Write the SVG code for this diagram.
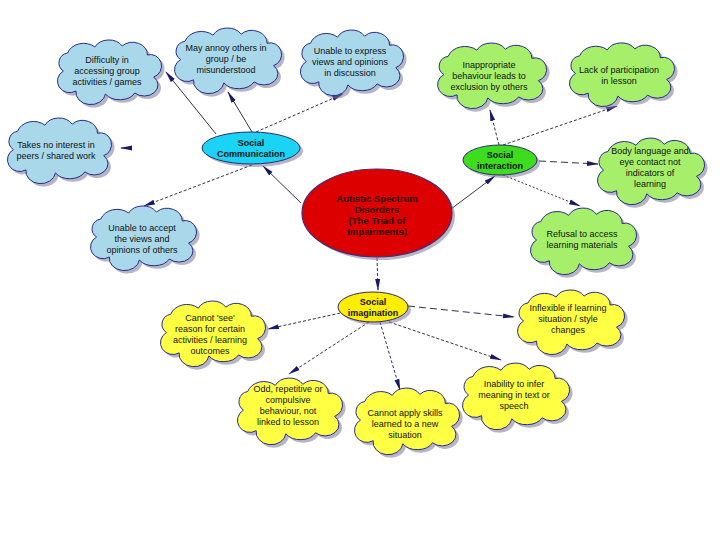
<svg xmlns="http://www.w3.org/2000/svg" xmlns:xlink="http://www.w3.org/1999/xlink" width="720" height="540" viewBox="0 0 720 540">
<style>
  .t{font-family:"Liberation Sans",Arial,sans-serif;font-size:9px;fill:#111;text-anchor:middle}
  .b{font-weight:bold}
  .shadow{fill:#7a7a9a;opacity:0.55}
  .cb{fill:#a9d8ea;stroke:#2b2b8a;stroke-width:1}
  .cg{fill:#a6ef6a;stroke:#2b2b8a;stroke-width:1}
  .cy{fill:#ffff44;stroke:#2b2b8a;stroke-width:1}
  .c{fill:none;stroke:#1a1a3a;stroke-width:0.9;marker-end:url(#ah)}
  .d1{stroke-dasharray:3 2}
  .d2{stroke-dasharray:7 4}
  .d3{stroke-dasharray:2 2}
</style>
<defs>
  <symbol id="cloud" viewBox="0 0 100 64" preserveAspectRatio="none" overflow="visible">
    <path vector-effect="non-scaling-stroke" d="M8,34 A10,10 0 0 1 12,16 A16,14 0 0 1 38,10 A15,13 0 0 1 64,9 A14,12 0 0 1 88,18 A10,11 0 0 1 94,40 A13,11 0 0 1 76,56 A16,12 0 0 1 48,57 A14,12 0 0 1 20,54 A10,10 0 0 1 8,34 Z"/>
  </symbol>
  <marker id="ah" viewBox="0 0 12 6" refX="11" refY="3" markerWidth="12" markerHeight="6" markerUnits="userSpaceOnUse" orient="auto">
    <path d="M0,0.5 L12,3 L0,5.5 Z" fill="#1a1a66"/>
  </marker>
</defs>
<rect width="720" height="540" fill="#fff"/>

<g id="connectors">
  <line class="c" x1="301" y1="203" x2="263" y2="166"/>
  <line class="c" x1="216" y1="134" x2="166" y2="72"/>
  <line class="c" x1="252" y1="132" x2="228" y2="92"/>
  <line class="c d1" x1="256" y1="132" x2="343" y2="94"/>
  <line class="c" x1="128" y1="148" x2="121" y2="148"/>
  <line class="c d1" x1="252" y1="165" x2="144" y2="206"/>
  <line class="c" x1="447" y1="212" x2="495" y2="176"/>
  <line class="c d1" x1="499" y1="145" x2="490" y2="110"/>
  <line class="c d1" x1="503" y1="145" x2="617" y2="106"/>
  <line class="c d2" x1="539" y1="161" x2="598" y2="164"/>
  <line class="c d3" x1="503" y1="175" x2="580" y2="206"/>
  <line class="c d1" x1="377" y1="258" x2="378" y2="290"/>
  <line class="c d1" x1="345" y1="312" x2="268" y2="329"/>
  <line class="c d2" x1="408" y1="306" x2="514" y2="317"/>
  <line class="c d1" x1="369" y1="322" x2="289" y2="374"/>
  <line class="c d1" x1="380" y1="322" x2="400" y2="390"/>
  <line class="c d1" x1="389" y1="322" x2="501" y2="360"/>
</g>

<g id="n-difficulty">
  <use href="#cloud" class="shadow" x="58" y="40" width="105" height="64"/>
  <use href="#cloud" class="cb" x="55" y="37" width="105" height="64"/>
  <text class="t" x="107" y="63">Difficulty in</text>
  <text class="t" x="107" y="74">accessing group</text>
  <text class="t" x="107" y="85">activities / games</text>
</g>
<g id="n-annoy">
  <use href="#cloud" class="shadow" x="175" y="28" width="108" height="65"/>
  <use href="#cloud" class="cb" x="172" y="25" width="108" height="65"/>
  <text class="t" x="226" y="51">May annoy others in</text>
  <text class="t" x="226" y="62">group / be</text>
  <text class="t" x="226" y="73">misunderstood</text>
</g>
<g id="n-express">
  <use href="#cloud" class="shadow" x="301" y="30" width="104" height="65"/>
  <use href="#cloud" class="cb" x="298" y="27" width="104" height="65"/>
  <text class="t" x="350" y="54">Unable to express</text>
  <text class="t" x="350" y="65">views and opinions</text>
  <text class="t" x="350" y="76">in discussion</text>
</g>
<g id="n-takes">
  <use href="#cloud" class="shadow" x="8" y="118" width="105" height="65"/>
  <use href="#cloud" class="cb" x="5" y="115" width="105" height="65"/>
  <text class="t" x="56" y="148">Takes no interest in</text>
  <text class="t" x="56" y="159">peers / shared work</text>
</g>
<g id="n-accept">
  <use href="#cloud" class="shadow" x="91" y="206" width="107" height="64"/>
  <use href="#cloud" class="cb" x="88" y="203" width="107" height="64"/>
  <text class="t" x="142" y="231">Unable to accept</text>
  <text class="t" x="142" y="242">the views and</text>
  <text class="t" x="142" y="253">opinions of others</text>
</g>
<g id="n-inappropriate">
  <use href="#cloud" class="shadow" x="438" y="43" width="110" height="65"/>
  <use href="#cloud" class="cg" x="435" y="40" width="110" height="65"/>
  <text class="t" x="489" y="68">Inappropriate</text>
  <text class="t" x="489" y="79">behaviour leads to</text>
  <text class="t" x="489" y="90">exclusion by others</text>
</g>
<g id="n-lack">
  <use href="#cloud" class="shadow" x="570" y="43" width="106" height="63"/>
  <use href="#cloud" class="cg" x="567" y="40" width="106" height="63"/>
  <text class="t" x="619" y="73">Lack of participation</text>
  <text class="t" x="619" y="84">in lesson</text>
</g>
<g id="n-body">
  <use href="#cloud" class="shadow" x="598" y="138" width="108" height="66"/>
  <use href="#cloud" class="cg" x="595" y="135" width="108" height="66"/>
  <text class="t" x="650" y="154">Body language and</text>
  <text class="t" x="650" y="165">eye contact not</text>
  <text class="t" x="650" y="176">indicators of</text>
  <text class="t" x="650" y="187">learning</text>
</g>
<g id="n-refusal">
  <use href="#cloud" class="shadow" x="531" y="208" width="107" height="66"/>
  <use href="#cloud" class="cg" x="528" y="205" width="107" height="66"/>
  <text class="t" x="582" y="237">Refusal to access</text>
  <text class="t" x="582" y="248">learning materials</text>
</g>
<g id="n-see">
  <use href="#cloud" class="shadow" x="161" y="301" width="106" height="65"/>
  <use href="#cloud" class="cy" x="158" y="298" width="106" height="65"/>
  <text class="t" x="210" y="321">Cannot 'see'</text>
  <text class="t" x="210" y="332">reason for certain</text>
  <text class="t" x="210" y="343">activities / learning</text>
  <text class="t" x="210" y="354">outcomes</text>
</g>
<g id="n-inflexible">
  <use href="#cloud" class="shadow" x="518" y="290" width="108" height="64"/>
  <use href="#cloud" class="cy" x="515" y="287" width="108" height="64"/>
  <text class="t" x="568" y="311">Inflexible if learning</text>
  <text class="t" x="568" y="322">situation / style</text>
  <text class="t" x="568" y="333">changes</text>
</g>
<g id="n-odd">
  <use href="#cloud" class="shadow" x="238" y="378" width="106" height="66"/>
  <use href="#cloud" class="cy" x="235" y="375" width="106" height="66"/>
  <text class="t" x="288" y="392">Odd, repetitive or</text>
  <text class="t" x="288" y="403">compulsive</text>
  <text class="t" x="288" y="414">behaviour, not</text>
  <text class="t" x="288" y="425">linked to lesson</text>
</g>
<g id="n-apply">
  <use href="#cloud" class="shadow" x="355" y="388" width="106" height="66"/>
  <use href="#cloud" class="cy" x="352" y="385" width="106" height="66"/>
  <text class="t" x="405" y="416">Cannot apply skills</text>
  <text class="t" x="405" y="427">learned to a new</text>
  <text class="t" x="405" y="438">situation</text>
</g>
<g id="n-infer">
  <use href="#cloud" class="shadow" x="463" y="363" width="108" height="66"/>
  <use href="#cloud" class="cy" x="460" y="360" width="108" height="66"/>
  <text class="t" x="514" y="387">Inability to infer</text>
  <text class="t" x="514" y="398">meaning in text or</text>
  <text class="t" x="514" y="409">speech</text>
</g>

<g id="n-social-communication">
  <ellipse cx="254" cy="151" rx="49" ry="16" fill="#7a7a9a" opacity="0.55"/>
  <ellipse cx="251" cy="148" rx="49" ry="16" fill="#1ad3f5" stroke="#2b2b6a" stroke-width="1"/>
  <text class="t b" x="251" y="146">Social</text>
  <text class="t b" x="251" y="157">Communication</text>
</g>
<g id="n-social-interaction">
  <ellipse cx="503" cy="163" rx="37" ry="15" fill="#7a7a9a" opacity="0.55"/>
  <ellipse cx="500" cy="160" rx="37" ry="15" fill="#3ddc1e" stroke="#2b2b6a" stroke-width="1"/>
  <text class="t b" x="500" y="158">Social</text>
  <text class="t b" x="500" y="169">interaction</text>
</g>
<g id="n-social-imagination">
  <ellipse cx="376" cy="310" rx="35" ry="15" fill="#7a7a9a" opacity="0.55"/>
  <ellipse cx="373" cy="307" rx="35" ry="15" fill="#ffee00" stroke="#2b2b6a" stroke-width="1"/>
  <text class="t b" x="373" y="305">Social</text>
  <text class="t b" x="373" y="316">imagination</text>
</g>
<g id="n-central">
  <ellipse cx="380" cy="216" rx="75" ry="44" fill="#7a7a9a" opacity="0.55"/>
  <ellipse cx="377" cy="213" rx="75" ry="44" fill="#dd0000" stroke="#4a2a6a" stroke-width="1.2"/>
  <text class="t b" x="377" y="202" style="fill:#2a0a0a;font-size:9.5px">Autistic Spectrum</text>
  <text class="t b" x="377" y="213" style="fill:#2a0a0a;font-size:9.5px">Disorders</text>
  <text class="t b" x="377" y="224" style="fill:#2a0a0a;font-size:9.5px">(The Triad of</text>
  <text class="t b" x="377" y="235" style="fill:#2a0a0a;font-size:9.5px">Impairments)</text>
</g>
</svg>
